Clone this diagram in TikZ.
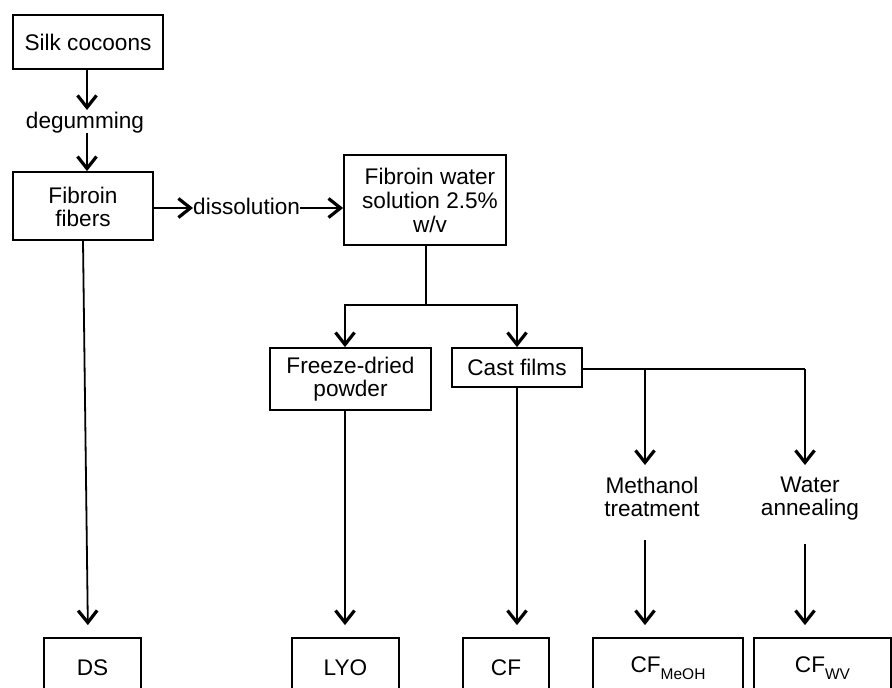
\documentclass[tikz,border=0pt]{standalone}
\usepackage{fontspec}
\setmainfont{Liberation Sans}
\usetikzlibrary{arrows.meta,calc}
\newcommand\myfs{\fontsize{22.6}{23}\selectfont}
\newcommand\subfs{\fontsize{15.5}{15.5}\selectfont}
\begin{document}
\begin{tikzpicture}[x=1pt,y=-1pt,
  box/.style={draw,line width=1.8pt,inner sep=0pt,align=center,font=\myfs},
  lbl/.style={inner sep=0pt,align=center,font=\myfs},
  line/.style={line width=1.8pt},
  arr/.style={line width=1.8pt,-{Straight Barb[length=12pt,width=19pt,line width=3.2pt]}}]
\clip (0,0) rectangle (892,688);
\fill[white] (0,0) rectangle (892,688);
% nodes
\node[box,minimum width=150pt,minimum height=54pt] (silk) at (88,42) {Silk cocoons};
\node[lbl,anchor=base] (deg) at (85,128) {degumming};
\node[box,minimum width=140pt,minimum height=68pt] (fib) at (83,206) {\rule{0pt}{18pt}Fibroin\\fibers};
\node[lbl,anchor=base west] (diss) at (193,214) {dissolution};
\node[box,minimum width=162pt,minimum height=90pt] (fws) at (425,200) {\hspace*{10pt}Fibroin water\\[1pt]\hspace*{10pt}solution 2.5\%\\[1pt]\hspace*{10pt}w/v};
\node[box,minimum width=161pt,minimum height=62pt] (fdp) at (350.5,379) {Freeze-dried\\powder};
\node[box,minimum width=130pt,minimum height=39pt] (cast) at (517,367.5) {Cast films};
\node[lbl,anchor=north] (meth) at (652,477) {Methanol\\treatment};
\node[lbl,anchor=north] (wat) at (810,477) {Water\\annealing};
\node[box,minimum width=97pt,minimum height=60pt] (ds) at (92.5,668) {DS};
\node[box,minimum width=107pt,minimum height=60pt] (lyo) at (345.5,668) {LYO};
\node[box,minimum width=86pt,minimum height=60pt] (cf) at (506,668) {CF};
\node[box,minimum width=150pt,minimum height=60pt] (cfm) at (668,668) {CF\raisebox{-7pt}{\subfs MeOH}};
\node[box,minimum width=137pt,minimum height=60pt] (cfw) at (822.5,668) {CF\raisebox{-7pt}{\subfs WV}};
% branch coordinates
\coordinate (jf) at (426,305);
\coordinate (bm) at (645,369);
\coordinate (bw) at (805,369);
% connectors
\draw[arr] (silk.south -| 87,0) -- (87,110);
\draw[arr] (87,133) -- (fib.north -| 87,0);
\draw[arr] (fib.east |- 0,208) -- (diss.west |- 0,208);
\draw[arr] (diss.east |- 0,208) -- (fws.west |- 0,208);
\draw[arr,shorten >=12pt] (fib.south) -- (ds.north -| 88,0);
\draw[line] (fws.south -| jf) -- (jf);
\draw[arr] (jf) -| (fdp.north -| 345,0);
\draw[arr] (jf) -| (cast.north);
\draw[arr,shorten >=12pt] (fdp.south -| 345,0) -- (lyo.north -| 345,0);
\draw[arr,shorten >=12pt] (cast.south) -- (cf.north -| cast.south);
\draw[line] (cast.east |- bw) -- (bw);
\draw[arr,shorten >=12pt] (bm) -- (meth.north -| bm);
\draw[arr,shorten >=12pt] (bw) -- (wat.north -| bw);
\draw[arr,shorten <=23pt,shorten >=12pt] (meth.south -| bm) -- (cfm.north -| bm);
\draw[arr,shorten <=23pt,shorten >=12pt] (wat.south -| bw) -- (cfw.north -| bw);
\end{tikzpicture}
\end{document}
